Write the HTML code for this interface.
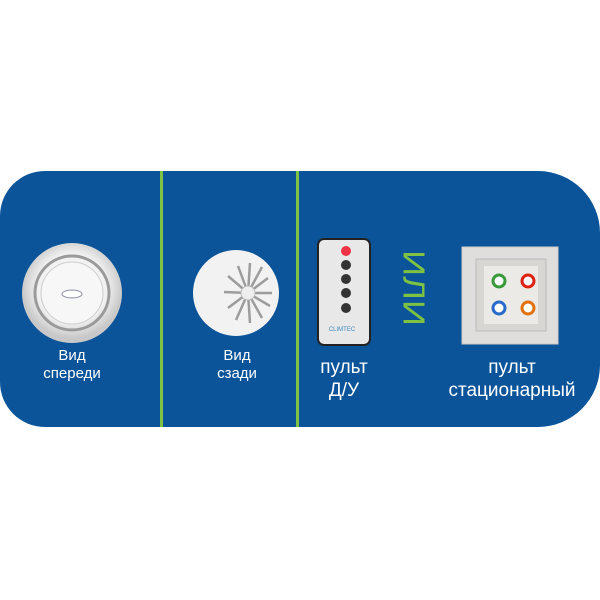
<!DOCTYPE html>
<html><head><meta charset="utf-8"><style>
body{margin:0;width:600px;height:600px;background:#fff;position:relative;overflow:hidden;font-family:"Liberation Sans",sans-serif}
.band{position:absolute;left:0;top:171px;width:600px;height:256px;background:#0b5499;border-radius:45px 62px 62px 45px}
.gl{position:absolute;top:171px;width:3px;height:256px;background:#7dc242}
.t{position:absolute;color:#fff;text-align:center;white-space:nowrap;transform:translateX(-50%)}
</style></head><body>
<div class="band"></div>
<div class="gl" style="left:160px"></div>
<div class="gl" style="left:296px"></div>
<svg width="600" height="600" style="position:absolute;left:0;top:0">
<defs>
<radialGradient id="g1" cx="50%" cy="45%"><stop offset="0" stop-color="#fff"/><stop offset="0.7" stop-color="#f0f0f0"/><stop offset="1" stop-color="#c8c8c8"/></radialGradient>
</defs>
<circle cx="72" cy="293" r="50" fill="url(#g1)"/>
<circle cx="72" cy="293" r="37" fill="none" stroke="#9a9a9a" stroke-width="3"/>
<circle cx="72" cy="293" r="31" fill="#f7f7f7" stroke="#ccc"/>
<ellipse cx="72" cy="294" rx="10" ry="4" fill="#fff" stroke="#88a"/>
<circle cx="236" cy="293" r="43" fill="#f2f2f2"/>
<g stroke="#9c9c9c" stroke-width="2.5">
<line x1="248" y1="293" x2="272" y2="293"/><line x1="248" y1="293" x2="268" y2="278"/><line x1="248" y1="293" x2="262" y2="267"/><line x1="248" y1="293" x2="250" y2="263"/><line x1="248" y1="293" x2="238" y2="266"/><line x1="248" y1="293" x2="228" y2="276"/><line x1="248" y1="293" x2="224" y2="292"/><line x1="248" y1="293" x2="228" y2="308"/><line x1="248" y1="293" x2="236" y2="320"/><line x1="248" y1="293" x2="250" y2="323"/><line x1="248" y1="293" x2="262" y2="318"/><line x1="248" y1="293" x2="270" y2="306"/>
</g>
<circle cx="248" cy="293" r="7" fill="#eee" stroke="#bbb"/>
<rect x="318" y="239" width="52" height="106" rx="6" fill="#e8e8e8" stroke="#222" stroke-width="2"/>
<circle cx="346" cy="251" r="5" fill="#e34"/>
<circle cx="346" cy="265" r="5" fill="#333"/><circle cx="346" cy="279" r="5" fill="#333"/><circle cx="346" cy="293" r="5" fill="#333"/><circle cx="346" cy="308" r="5" fill="#333"/>
<text x="342" y="331" font-size="6" fill="#3a8ac0" text-anchor="middle" font-family="Liberation Sans">CLIMTEC</text>
<text x="414" y="288" font-size="31" fill="#7dc242" text-anchor="middle" dominant-baseline="central" transform="rotate(90 414 288)" font-family="Liberation Sans" textLength="76" lengthAdjust="spacingAndGlyphs">ИЛИ</text>
<rect x="462" y="247" width="96" height="97" fill="#e0dedd" stroke="#cfcac6"/>
<rect x="476" y="259" width="70" height="72" fill="#d8d6d3" stroke="#bbb"/>
<rect x="484" y="266" width="54" height="58" fill="#eceae7"/>
<circle cx="499" cy="281" r="6" fill="#fff" stroke="#3a9a3a" stroke-width="3"/>
<circle cx="528" cy="281" r="6" fill="#fff" stroke="#d21" stroke-width="3"/>
<circle cx="499" cy="308" r="6" fill="#fff" stroke="#2a6ac8" stroke-width="3"/>
<circle cx="528" cy="308" r="6" fill="#fff" stroke="#e07010" stroke-width="3"/>
</svg>
<div class="t" style="left:72px;top:347px;font-size:15px;line-height:18px">Вид<br>спереди</div>
<div class="t" style="left:237px;top:347px;font-size:15px;line-height:18px">Вид<br>сзади</div>
<div class="t" style="left:344px;top:356px;font-size:19px;line-height:23px">пульт<br>Д/У</div>
<div class="t" style="left:512px;top:356px;font-size:19px;line-height:23px">пульт<br>стационарный</div>
</body></html>
